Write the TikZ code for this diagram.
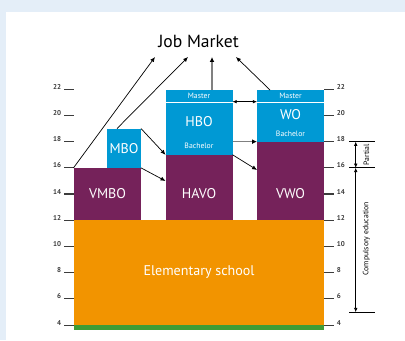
\documentclass[tikz,border=0pt]{standalone}
\usepackage{xcolor}
\usepackage{fontspec}
\setmainfont{PT Sans}
\usetikzlibrary{fit,calc,arrows.meta}

\definecolor{eduPurple}{RGB}{117,34,90}
\definecolor{eduBlue}{RGB}{0,153,212}
\definecolor{eduOrange}{RGB}{242,148,0}
\definecolor{eduGreen}{RGB}{63,156,53}
\definecolor{panelBlue}{RGB}{228,238,248}
\definecolor{tickGray}{RGB}{60,60,60}

\begin{document}
\begin{tikzpicture}[x=0.025cm,y=0.3275cm,
	blk/.style={inner sep=0pt, outer sep=0pt, fill=#1},
	lbl/.style={text=white, inner sep=0pt, font=\fontsize{10}{12}\selectfont},
	tiny/.style={text=white, inner sep=0pt, font=\fontsize{5.5}{6}\selectfont},
	ticklbl/.style={text=tickGray, inner sep=0pt, font=\fontsize{5}{6}\selectfont\bfseries},
	arr/.style={line width=0.5pt, -{Latex[length=3.5pt,width=3pt]}},
	garr/.style={draw=gray, line width=1.1pt, -{Latex[length=3.5pt,width=3.4pt,color=black]}},
	darr/.style={line width=0.5pt, {Latex[length=3pt,width=2.6pt]}-{Latex[length=3pt,width=2.6pt]}}]
	% Parameters
	\def\xl{73.5}
	\def\xr{324}
	\def\wvl{141}
	\def\hl{165.5}
	\def\hr{232.5}
	\def\wl{257}
	\def\ytop{24.46}
	
	%background
	\fill[panelBlue] (0,2.855) rectangle (405,28.81);
	\fill[white] (6,2.855) rectangle (405,27.89);
	\useasboundingbox (0,2.855) rectangle (405,28.81);
	
	%blocks
	\node[blk=eduGreen, fit={(\xl,3.62) (\xr,4)}] (green) {};
	\node[blk=eduOrange, fit={(\xl,4) (\xr,12)}] (elem) {};
	\node[blk=eduPurple, fit={(\xl,12) (\wvl,16)}] (vmbo) {};
	\node[blk=eduBlue, fit={(107,16) (\wvl,19)}] (mbo) {};
	\node[blk=eduPurple, fit={(\hl,12) (\hr,17)}] (havo) {};
	\node[blk=eduBlue, fit={(\hl,17) (\hr,20.95)}] (hbo) {};
	\node[blk=eduBlue, fit={(\hl,21.05) (\hr,21.94)}] (hboma) {};
	\node[blk=eduPurple, fit={(\wl,12) (\xr,18)}] (vwo) {};
	\node[blk=eduBlue, fit={(\wl,18) (\xr,20.95)}] (wo) {};
	\node[blk=eduBlue, fit={(\wl,21.05) (\xr,21.94)}] (woma) {};
	
	%labels
	\node[lbl] (elemlbl) at (199,8.05) {Elementary school};
	\node[lbl] (vmbolbl) at (107.5,14) {VMBO};
	\node[lbl] (havolbl) at (199,14) {HAVO};
	\node[lbl] (vwolbl) at (290.5,14) {VWO};
	\node[lbl] (mbolbl) at (124,17.5) {MBO};
	\node[lbl] (hbolbl) at (199,19.5) {HBO};
	\node[lbl] (wolbl) at (290.5,20.1) {WO};
	\node[tiny] (hbobach) at (199,17.66) {Bachelor};
	\node[tiny] (wobach) at (290.5,18.58) {Bachelor};
	\node[tiny] (hbomalbl) at (hboma.center) {Master};
	\node[tiny] (womalbl) at (woma.center) {Master};
	
	%ticks
	\foreach \a in {4,6,...,22}{
		\draw[tickGray, line width=0.8pt] (64,\a) -- (\xl,\a);
		\draw[tickGray, line width=0.8pt] (\xr,\a) -- (334,\a);
		\node[ticklbl, anchor=base east] (tl\a) at (61.5,\a) {\a};
		\node[ticklbl, anchor=base west] (tr\a) at (336.5,\a) {\a};
	}
	
	%job market
	\node[anchor=base, inner sep=0pt, font=\fontsize{12.5}{14}\selectfont] (job) at (198.5,25.22) {Job Market};
	\coordinate (jm1) at (155,\ytop);
	\coordinate (jm2) at (188,\ytop);
	\coordinate (jm3) at (212,\ytop);
	\coordinate (jm4) at (236,\ytop);
	\draw[arr] (vmbo.north west) -- (jm1);
	\draw[arr] ($(mbo.north west)+(10,0)$) -- (jm2);
	\draw[garr] (hboma.north -| jm3) -- (jm3);
	\draw[arr] ($(woma.north west)+(13,0)$) -- (jm4);
	
	%transfers
	\draw[arr] (mbo.north east) -- (hbo.south west);
	\draw[arr] (vmbo.north east) -- ($(havo.south west)!0.6!(havo.north west)$);
	\draw[arr] (havo.north east) -- ($(vwo.south west)!0.64!(vwo.north west)$);
	\draw[garr] (hbo.east |- wo.south west) -- (wo.south west);
	\draw[darr] (hboma.south east) -- (woma.south west);
	
	%compulsory
	\draw[line width=0.6pt] (349,18) -- (375,18);
	\draw[line width=0.6pt] (349,16) -- (375,16);
	\draw[line width=0.6pt] (349,4.99) -- (375,4.99);
	\coordinate (p18) at (355.7,18);
	\coordinate (p16) at (355.7,16);
	\coordinate (p5) at (355.7,4.99);
	\draw[darr] (p18) -- (p16);
	\draw[darr] (p16) -- (p5);
	\node[rotate=90, inner sep=0pt, font=\fontsize{5.5}{6}\selectfont] (partial) at (366.5,17) {Partial};
	\node[rotate=90, inner sep=0pt, font=\fontsize{5.5}{6}\selectfont] (compulsory) at (366.5,10.6) {Compulsory education};
\end{tikzpicture}
\end{document}
